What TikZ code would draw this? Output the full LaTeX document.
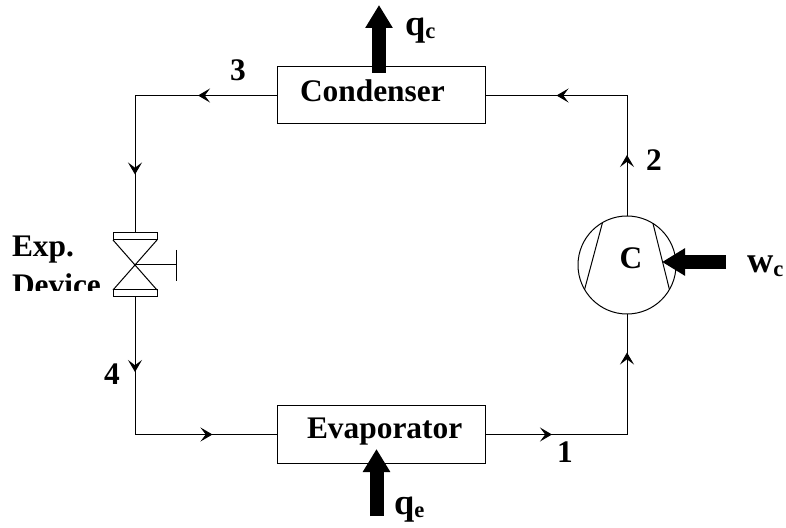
\documentclass[tikz,border=0pt]{standalone}
\usepackage{fontspec}
\setmainfont{Liberation Serif}
\usetikzlibrary{positioning,arrows.meta,calc,decorations.markings}
\newcommand{\subc}[1]{\raisebox{-1.7pt}{\fontsize{11.3}{11.3}\selectfont #1}}
\tikzset{
  lab/.style={inner sep=0pt, outer sep=0pt, anchor=base west},
  labmid/.style={inner sep=0pt, outer sep=0pt, anchor=base},
  biglab/.style={lab, font=\fontsize{18.2}{20}\selectfont\bfseries},
  unitbox/.style={draw, minimum width=104pt, minimum height=28.5pt, inner sep=0pt, outer sep=0pt},
  valvebar/.style={draw, minimum width=22pt, minimum height=3.5pt, inner sep=0pt, outer sep=0pt},
  heatflow/.style={line width=7pt, -{Triangle[length=11.5pt,width=13pt]}},
  flow/.style 2 args={postaction={decorate}, decoration={markings,
    mark=at position #1 with {\arrow{Stealth[length=6pt,width=7pt,inset=2.6pt]}},
    mark=at position #2 with {\arrow{Stealth[length=6pt,width=7pt,inset=2.6pt]}}}}
}
\begin{document}
\begin{tikzpicture}[x=0.5pt, y=-0.5pt, line width=0.5pt, font=\fontsize{15.7}{18}\selectfont\bfseries]
\useasboundingbox (0,0) rectangle (786,528);
% units
\node[unitbox] (condenser) at (381,95.5) {};
\node[unitbox] (evaporator) at (381,434.5) {};
\node[circle, draw, minimum size=49pt, inner sep=0pt, outer sep=0pt] (compressor) at (627,265) {};
\node[valvebar] (valvetop) at (135,236.5) {};
\node[valvebar] (valvebot) at (135,293.5) {};
\coordinate (valvemid) at (135,265);
\coordinate (handle) at (176,265);
\coordinate (handletop) at (176,250);
\coordinate (handlebot) at (176,281);
% compressor and valve details
\draw (compressor.120) -- (compressor.210);
\draw (compressor.58) -- (compressor.-30);
\draw (valvetop.south west) -- (valvebot.north east);
\draw (valvetop.south east) -- (valvebot.north west);
\draw (valvemid) -- (handle);
\draw (handletop) -- (handlebot);
% circuit
\draw[flow={30.5pt}{95.5pt}] (compressor.north) |- (condenser.east);
\draw[flow={39.5pt}{110.5pt}] (condenser.west) -| (valvetop.north);
\draw[flow={37.5pt}{107.5pt}] (valvebot.south) |- (evaporator.west);
\draw[flow={33.5pt}{112pt}] (evaporator.east) -| (compressor.south);
% heat and work
\coordinate (qcstart) at (379,73);
\coordinate (qcend) at (379,5);
\coordinate (qestart) at (376.5,516);
\coordinate (qeend) at (376.5,449);
\coordinate (wcstart) at (726,262);
\coordinate (wcend) at (662,262);
\draw[heatflow] (qcstart) -- (qcend);
\draw[heatflow] (qestart) -- (qeend);
\draw[heatflow] (wcstart) -- (wcend);
% labels
\node[lab] (condlab) at (300,101.5) {Condenser};
\node[lab] (evaplab) at (307,438.5) {Evaporator};
\node[labmid] (complab) at (631,269) {C};
\node[lab] (explab) at (12,257) {Exp.};
\begin{scope}
\clip (0,265) rectangle (135,290.5);
\node[lab] (devlab) at (12,296) {Device};
\end{scope}
\node[labmid] (st1) at (565,463) {1};
\node[labmid] (st2) at (654,171) {2};
\node[labmid] (st3) at (238,81) {3};
\node[labmid] (st4) at (112,385) {4};
\node[biglab] (qclab) at (405,35.5) {q\subc{c}};
\node[biglab] (qelab) at (394,514) {q\subc{e}};
\node[biglab] (wclab) at (747,273) {w\subc{c}};
\end{tikzpicture}
\end{document}
